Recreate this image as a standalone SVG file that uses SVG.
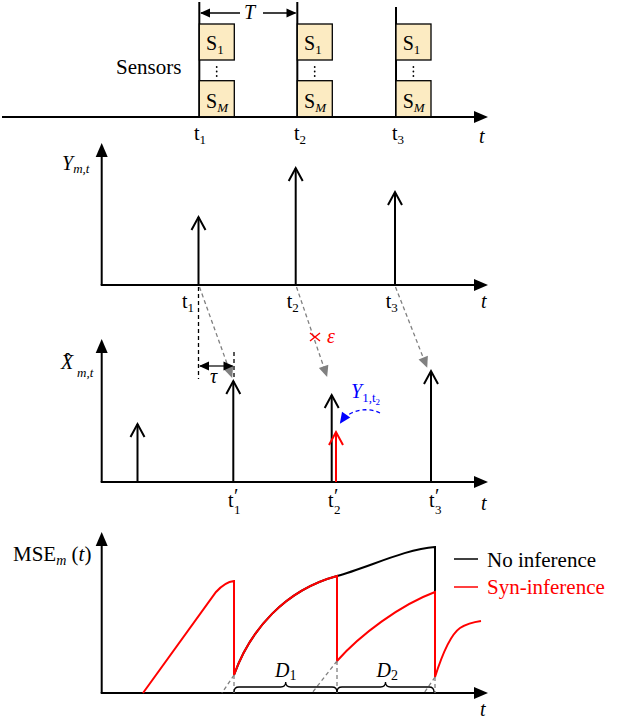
<svg xmlns="http://www.w3.org/2000/svg" width="625" height="721" viewBox="0 0 625 721">
<style>
text{font-family:"Liberation Serif","Times New Roman",serif;font-size:20px;fill:#000}
.it{font-style:italic}
.ax{stroke:#000;stroke-width:2;fill:none}
.stem{stroke:#000;stroke-width:2;fill:none}
.box{fill:#fcebc2;stroke:#000;stroke-width:1.3}
.gd{stroke:#808080;stroke-width:1.3;stroke-dasharray:4 3;fill:none}
.kd{stroke:#000;stroke-width:1.3;stroke-dasharray:4 3;fill:none}
.red{stroke:#ff0000;stroke-width:2;fill:none}
.blk{stroke:#000;stroke-width:2;fill:none}
.brace{stroke:#000;stroke-width:1.3;fill:none}
</style>
<defs>
<marker id="axh" markerUnits="userSpaceOnUse" orient="auto" overflow="visible" refX="0" refY="0"><path d="M-10,-6 L4,0 L-10,6 Z" fill="#000"/></marker>
<marker id="chev" markerUnits="userSpaceOnUse" orient="auto" overflow="visible" refX="0" refY="0"><path d="M-13,-7 L0,0 L-13,7" fill="none" stroke="#000" stroke-width="2"/></marker>
<marker id="chevr" markerUnits="userSpaceOnUse" orient="auto" overflow="visible" refX="0" refY="0"><path d="M-13,-7 L0,0 L-13,7" fill="none" stroke="#ff0000" stroke-width="2"/></marker>
<marker id="sm" markerUnits="userSpaceOnUse" orient="auto-start-reverse" overflow="visible" refX="0" refY="0"><path d="M-9,-4.5 L1,0 L-9,4.5 Z" fill="#000"/></marker>
<marker id="gh" markerUnits="userSpaceOnUse" orient="auto" overflow="visible" refX="0" refY="0"><path d="M-9,-5 L2,0 L-9,5 Z" fill="#808080"/></marker>
<marker id="bh" markerUnits="userSpaceOnUse" orient="auto" overflow="visible" refX="0" refY="0"><path d="M-9,-5 L2,0 L-9,5 Z" fill="#0000ff"/></marker>
</defs>

<!-- Panel 1: sensors -->
<g id="panel-sensors">
<line class="ax" x1="2" y1="117" x2="484" y2="117" marker-end="url(#axh)"/>
<line class="blk" x1="199.3" y1="2" x2="199.3" y2="117" stroke-width="1.6"/>
<line class="blk" x1="297.3" y1="2" x2="297.3" y2="117" stroke-width="1.6"/>
<line class="blk" x1="396" y1="7" x2="396" y2="117" stroke-width="1.6"/>
<text x="116" y="74" style="font-size:21px">Sensors</text>
<text x="194" y="140">t<tspan font-size="13" dy="4">1</tspan></text>
<text x="294" y="140">t<tspan font-size="13" dy="4">2</tspan></text>
<text x="392" y="140">t<tspan font-size="13" dy="4">3</tspan></text>
<text class="it" x="479" y="143">t</text>
</g>
<g id="period-T">
<line x1="240" y1="13" x2="201" y2="13" stroke="#000" stroke-width="1.3" marker-end="url(#sm)"/>
<line x1="263" y1="13" x2="295.5" y2="13" stroke="#000" stroke-width="1.3" marker-end="url(#sm)"/>
<text class="it" x="244" y="19">T</text>
</g>
<g id="sensors-t1">
<rect class="box" x="199.3" y="24" width="35" height="36"/>
<rect class="box" x="199.3" y="80.7" width="35" height="36"/>
<text x="206" y="50">S<tspan font-size="13" dy="4">1</tspan></text>
<text x="206" y="108">S<tspan font-size="13" dy="4" font-style="italic">M</tspan></text>
<circle cx="216.7" cy="67" r="0.9"/><circle cx="216.7" cy="71.5" r="0.9"/><circle cx="216.7" cy="76" r="0.9"/>
</g>
<g id="sensors-t2">
<rect class="box" x="297.3" y="24" width="35" height="36"/>
<rect class="box" x="297.3" y="80.7" width="35" height="36"/>
<text x="304" y="50">S<tspan font-size="13" dy="4">1</tspan></text>
<text x="304" y="108">S<tspan font-size="13" dy="4" font-style="italic">M</tspan></text>
<circle cx="314.7" cy="67" r="0.9"/><circle cx="314.7" cy="71.5" r="0.9"/><circle cx="314.7" cy="76" r="0.9"/>
</g>
<g id="sensors-t3">
<rect class="box" x="396" y="24" width="35" height="36"/>
<rect class="box" x="396" y="80.7" width="35" height="36"/>
<text x="402.7" y="50">S<tspan font-size="13" dy="4">1</tspan></text>
<text x="402.7" y="108">S<tspan font-size="13" dy="4" font-style="italic">M</tspan></text>
<circle cx="413.4" cy="67" r="0.9"/><circle cx="413.4" cy="71.5" r="0.9"/><circle cx="413.4" cy="76" r="0.9"/>
</g>

<!-- Panel 2: Y_{m,t} -->
<g id="panel-Y">
<line class="ax" x1="101.7" y1="285" x2="101.7" y2="147" marker-end="url(#axh)"/>
<line class="ax" x1="100.7" y1="285" x2="484" y2="285" marker-end="url(#axh)"/>
<text class="it" x="62" y="170">Y<tspan font-size="13" dy="3">m,t</tspan></text>
<line class="stem" x1="198.5" y1="285" x2="198.5" y2="217" marker-end="url(#chev)"/>
<line class="stem" x1="295.7" y1="285" x2="295.7" y2="168" marker-end="url(#chev)"/>
<line class="stem" x1="395" y1="285" x2="395" y2="192" marker-end="url(#chev)"/>
<text x="182" y="308">t<tspan font-size="13" dy="4">1</tspan></text>
<text x="286.7" y="308">t<tspan font-size="13" dy="4">2</tspan></text>
<text x="385.7" y="308">t<tspan font-size="13" dy="4">3</tspan></text>
<text class="it" x="481" y="308">t</text>
</g>

<!-- Panel 3: X hat -->
<g id="panel-Xhat">
<line class="ax" x1="101.7" y1="482" x2="101.7" y2="343" marker-end="url(#axh)"/>
<line class="ax" x1="100.7" y1="482" x2="484" y2="482" marker-end="url(#axh)"/>
<text class="it" x="61" y="369">X</text>
<text x="64" y="368" style="font-size:22px">ˆ</text>
<text class="it" x="77" y="377" style="font-size:13px">m,t</text>
<line class="stem" x1="137.5" y1="482" x2="137.5" y2="424" marker-end="url(#chev)"/>
<line class="stem" x1="233.3" y1="482" x2="233.3" y2="381" marker-end="url(#chev)"/>
<line class="stem" x1="331.7" y1="482" x2="331.7" y2="395" marker-end="url(#chev)"/>
<line class="red" x1="336" y1="482" x2="336" y2="432" marker-end="url(#chevr)"/>
<line class="stem" x1="431" y1="482" x2="431" y2="371" marker-end="url(#chev)"/>
<text x="228" y="507">t<tspan dx="0.5" dy="-4">′</tspan><tspan font-size="13" dx="-4.5" dy="11">1</tspan></text>
<text x="328" y="507">t<tspan dx="0.5" dy="-4">′</tspan><tspan font-size="13" dx="-4.5" dy="11">2</tspan></text>
<text x="429" y="507">t<tspan dx="0.5" dy="-4">′</tspan><tspan font-size="13" dx="-4.5" dy="11">3</tspan></text>
<text class="it" x="481" y="510">t</text>
</g>

<!-- Panel 4: MSE -->
<g id="panel-MSE">
<line class="ax" x1="101.7" y1="693" x2="101.7" y2="536" marker-end="url(#axh)"/>
<line class="ax" x1="100.7" y1="693" x2="484" y2="693" marker-end="url(#axh)"/>
<text x="13" y="561" style="font-size:21px">MSE<tspan class="it" font-size="14" dy="4">m</tspan><tspan dy="-4"> (</tspan><tspan class="it">t</tspan>)</text>
<text class="it" x="480" y="716">t</text>
</g>
<g id="curve-no-inference">
<path class="blk" d="M234,675 C250,630 285,590 337,576 C367,568 405,549 435,547 L435,677"/>
</g>
<g id="curve-syn-inference">
<path class="red" d="M143,693 L216,592 Q225,582 234,581 L234,675 C250,630 285,590 337,576 L337,661 C360,635 400,605 435,592 L435,677 C442,655 450,635 460,628 C468,623 474,622 481,621"/>
</g>
<g id="dashed-extrapolation">
<line class="gd" x1="234" y1="675" x2="222" y2="693"/>
<line class="gd" x1="234" y1="675" x2="234" y2="693"/>
<line class="gd" x1="337" y1="661" x2="312" y2="693"/>
<line class="gd" x1="337" y1="661" x2="337" y2="693"/>
<line class="gd" x1="435" y1="677" x2="424" y2="693"/>
<line class="gd" x1="435" y1="677" x2="435" y2="693"/>
</g>
<g id="brace-D1">
<path class="brace" d="M234,692 Q234,687 239,687 L280.7,687 Q285.7,687 285.7,682 Q285.7,687 290.7,687 L332,687 Q337,687 337,692"/>
<text class="it" x="275" y="677">D<tspan font-style="normal" font-size="14" dy="3">1</tspan></text>
</g>
<g id="brace-D2">
<path class="brace" d="M337,692 Q337,687 342,687 L380.5,687 Q385.5,687 385.5,682 Q385.5,687 390.5,687 L429,687 Q434,687 434,692"/>
<text class="it" x="376.5" y="677">D<tspan font-style="normal" font-size="14" dy="3">2</tspan></text>
</g>
<g id="legend">
<line x1="454" y1="559" x2="478" y2="559" stroke="#000" stroke-width="1.5"/>
<text x="487" y="567" style="font-size:21px">No inference</text>
<line x1="454" y1="587" x2="478" y2="587" stroke="#ff0000" stroke-width="1.5"/>
<text x="487" y="594" style="font-size:21px;fill:#ff0000">Syn-inference</text>
</g>

<!-- Connectors -->
<g id="connectors">
<line class="gd" x1="199.5" y1="287" x2="231.5" y2="376" marker-end="url(#gh)"/>
<line class="gd" x1="296.5" y1="287" x2="326.5" y2="375" marker-end="url(#gh)"/>
<line class="gd" x1="395.5" y1="287" x2="426.5" y2="366" marker-end="url(#gh)"/>
<line class="kd" x1="198.5" y1="287" x2="198.5" y2="379" stroke-width="1.5"/>
<line class="kd" x1="234" y1="352" x2="234" y2="380" stroke-width="1.5"/>
<line x1="200" y1="366" x2="232.5" y2="366" stroke="#333" stroke-width="1.5" marker-start="url(#sm)" marker-end="url(#sm)"/>
<text class="it" x="210" y="383">τ</text>
<g id="lost-packet">
<line x1="310" y1="333" x2="320" y2="341" stroke="#ff0000" stroke-width="1.5"/>
<line x1="310" y1="341" x2="320" y2="333" stroke="#ff0000" stroke-width="1.5"/>
<text class="it" x="327" y="343" style="fill:#ff0000">ε</text>
</g>
<g id="inferred-Y">
<path d="M380,413 C368,407 350,409 341,422" stroke="#0000ff" stroke-width="1.3" stroke-dasharray="4 3" fill="none" marker-end="url(#bh)"/>
<text class="it" x="351" y="398" style="fill:#0000ff">Y<tspan font-style="normal" font-size="13" dy="4">1,t</tspan><tspan font-style="normal" font-size="9" dy="3">2</tspan></text>
</g>
</g>
</svg>
